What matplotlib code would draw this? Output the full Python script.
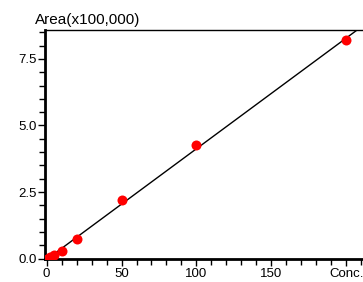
import numpy as np
import matplotlib
matplotlib.use("Agg")
import matplotlib.pyplot as plt
from matplotlib.ticker import MultipleLocator

# calibration data (conc, area x100,000)
conc = [0, 2, 5, 10, 20, 50, 100, 200]
area = [0.0, 0.05, 0.12, 0.27, 0.72, 2.22, 4.25, 8.20]

x_ticks = [0, 50, 100, 150, 200]
x_labels = ["0", "50", "100", "150", "Conc."]
y_ticks = [0.0, 2.5, 5.0, 7.5]
y_labels = ["0.0", "2.5", "5.0", "7.5"]

plt.rcParams['font.family'] = ['Liberation Sans', 'DejaVu Sans']
plt.rcParams['font.size'] = 9.5

fig = plt.figure(figsize=(3.63, 2.82), dpi=100)
ax = fig.add_axes([0.124, 0.080, 0.878, 0.815])

# linear fit through the points
k, b = np.polyfit(conc, area, 1)
xs = np.array([0, 215])
ax.plot(xs, k * xs + b, color="black", lw=1.0, zorder=2)
ax.plot(conc, area, "o", color="#ff0000", ms=7.2, mec="none", zorder=3)

ax.set_xlim(-1, 211.5)
ax.set_ylim(-0.03, 8.6)

ax.set_xticks(x_ticks)
ax.set_xticklabels(x_labels)
ax.set_yticks(y_ticks)
ax.set_yticklabels(y_labels)
ax.xaxis.set_minor_locator(MultipleLocator(10))
ax.yaxis.set_minor_locator(MultipleLocator(0.5))
ax.tick_params(which="major", length=5, width=1, pad=1)
ax.tick_params(which="minor", length=4, width=1)

ax.spines["left"].set_linewidth(2)
ax.spines["bottom"].set_linewidth(2)
ax.spines["top"].set_linewidth(1)
ax.spines["right"].set_visible(False)

fig.text(0.097, 0.905, "Area(x100,000)", fontsize=11, ha="left", va="bottom")

fig.savefig("out.png", dpi=100)
